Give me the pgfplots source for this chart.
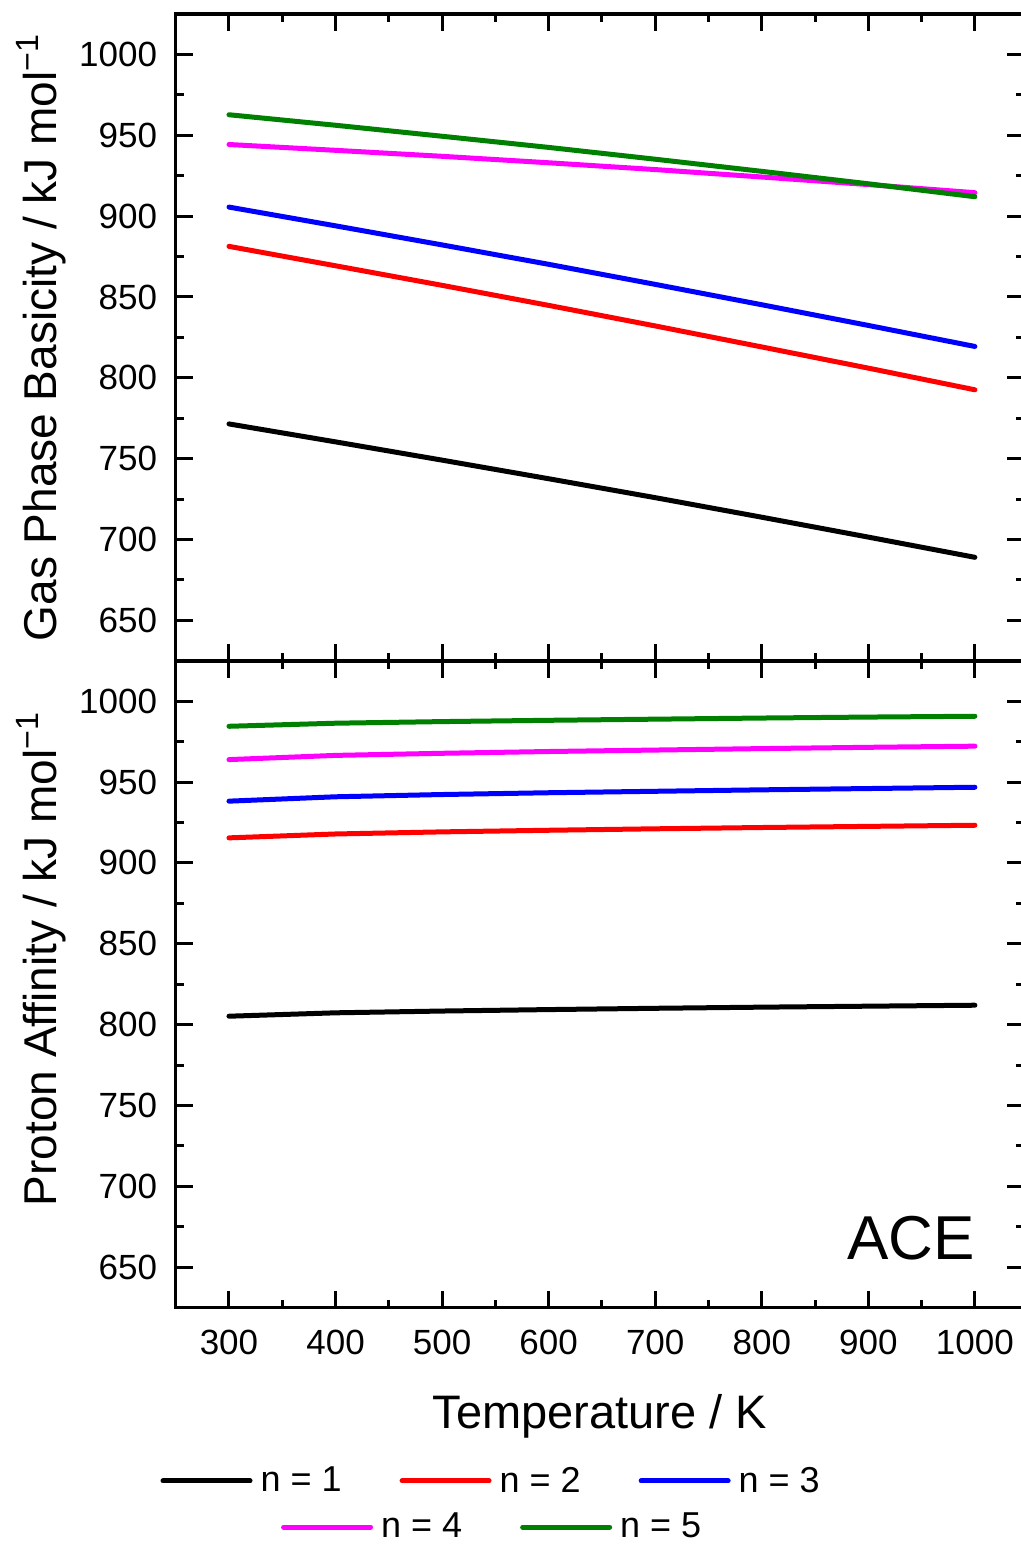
\documentclass[border=0pt]{standalone}
\usepackage{fontspec}
\setmainfont{Liberation Sans}
\usepackage{pgfplots}
\pgfplotsset{compat=1.18}
\definecolor{cgreen}{RGB}{0,128,0}
\definecolor{cred}{RGB}{255,0,0}
\definecolor{cblue}{RGB}{0,0,255}
\definecolor{cmag}{RGB}{255,0,255}
\begin{document}
\begin{tikzpicture}
\pgfplotsset{
  panel/.style={
    scale only axis, width=424.1pt, height=323.4pt,
    xmin=250, xmax=1046, ymin=625, ymax=1025,
    xtick={300,400,...,1000}, minor x tick num=1,
    ytick={650,700,...,1000}, minor y tick num=1,
    tick align=inside, major tick length=8.5pt, minor tick length=4pt,
    tick style={line width=1.5pt, black},
    axis line style={line width=1.75pt},
    /pgf/number format/assume math mode=true,
    /pgf/number format/1000 sep={},
    ticklabel style={font=\fontsize{17.5}{20}\selectfont},
    yticklabel pos=left,
    yticklabel style={xshift=-5.8pt},
    xticklabel style={yshift=-7.5pt},
    every axis plot/.append style={line width=2.5pt, line cap=round, line join=round},
    legend image code/.code={\draw[##1] (0pt,0pt) -- (43.5pt,0pt);},
    legend style={draw=none, fill=none, font=\fontsize{18}{20}\selectfont, anchor=center,
      inner sep=0pt, column sep=0pt, nodes={inner sep=0pt},
      /tikz/every odd column/.append style={column sep=4pt},
      /tikz/every even column/.append style={column sep=29pt}},
    legend columns=-1,
    ylabel style={font=\fontsize{23}{27}\selectfont, anchor=base},
    xlabel style={font=\fontsize{23.5}{27}\selectfont, anchor=base},
  }
}
% ---------------- top panel: gas phase basicity
\begin{axis}[panel, name=top, at={(0,0)}, anchor=south west,
  xticklabels={},
  ylabel={Gas Phase Basicity / kJ mol\textsuperscript{−1}},
  ylabel style={at={([xshift=-59.8pt]axis description cs:0,0.5)}},
  legend style={at={(axis description cs:0.3719,-1.3392)}},
]
\addplot[black, forget plot] coordinates {(300,771.5)(400,760.4)(500,749.1)(600,737.6)(700,725.9)(800,713.8)(900,701.5)(1000,689.0)};
\addplot[cred, forget plot] coordinates {(300,881.3)(400,869.3)(500,857.2)(600,844.8)(700,832.1)(800,819.1)(900,806.0)(1000,792.6)};
\addplot[cblue, forget plot] coordinates {(300,905.6)(400,894.0)(500,882.2)(600,870.2)(700,857.8)(800,845.2)(900,832.4)(1000,819.4)};
\addplot[cmag] coordinates {(300,944.3)(400,940.7)(500,937.0)(600,933.0)(700,928.8)(800,924.2)(900,919.5)(1000,914.5)};
\addlegendentry{n = 4}
\addplot[cgreen] coordinates {(300,962.7)(400,956.2)(500,949.4)(600,942.5)(700,935.2)(800,927.7)(900,920.0)(1000,912.0)};
\addlegendentry{n = 5}
\end{axis}
% ---------------- bottom panel: proton affinity
\begin{axis}[panel, name=bot, at={(0,0)}, anchor=north west,
  xlabel={Temperature / K},
  xlabel style={at={([yshift=-60.2pt]axis description cs:0.5,0)}},
  ylabel={Proton Affinity / kJ mol\textsuperscript{−1}},
  ylabel style={at={([xshift=-59.8pt]axis description cs:0,0.539)}},
  legend style={at={(axis description cs:0.3707,-0.268)}},
]
\addplot[black] coordinates {(300,805.2)(400,807.3)(500,808.4)(600,809.3)(700,810.1)(800,810.8)(900,811.4)(1000,812.0)};
\addlegendentry{n = 1}
\addplot[cred] coordinates {(300,915.5)(400,917.9)(500,919.2)(600,920.2)(700,921.1)(800,921.9)(900,922.6)(1000,923.3)};
\addlegendentry{n = 2}
\addplot[cblue] coordinates {(300,938.2)(400,940.9)(500,942.3)(600,943.4)(700,944.3)(800,945.2)(900,946.0)(1000,946.8)};
\addlegendentry{n = 3}
\addplot[cmag, forget plot] coordinates {(300,963.9)(400,966.5)(500,967.8)(600,968.9)(700,969.8)(800,970.7)(900,971.5)(1000,972.2)};
\addplot[cgreen, forget plot] coordinates {(300,984.5)(400,986.4)(500,987.4)(600,988.2)(700,988.9)(800,989.6)(900,990.2)(1000,990.7)};
\node[anchor=base east, font=\fontsize{31}{35}\selectfont, inner sep=0pt] at (axis cs:1000,655) {ACE};
\end{axis}
\pgfresetboundingbox
\path[use as bounding box] (-87.85pt,-442.1pt) rectangle (422.65pt,330.4pt);
\end{tikzpicture}
\end{document}
